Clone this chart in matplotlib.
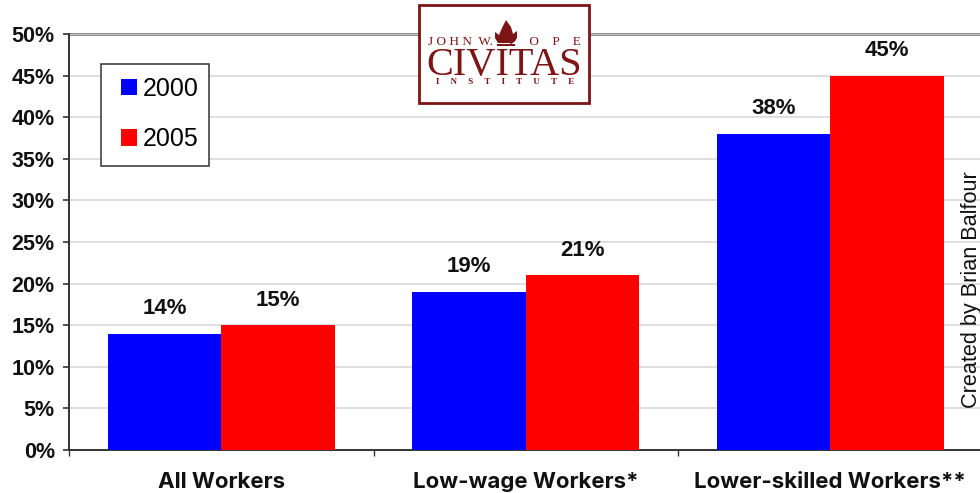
"""Share of workers by group, 2000 vs 2005, with the Civitas logo box on top."""

import matplotlib

matplotlib.use("Agg")
import matplotlib.pyplot as plt
import numpy as np
from matplotlib.patches import Patch, PathPatch, Rectangle
from matplotlib.path import Path as MPath

categories = ["All Workers", "Low-wage Workers*", "Lower-skilled Workers**"]
values_2000 = [14, 19, 38]
values_2005 = [15, 21, 45]
yticks = list(range(0, 55, 5))

BLUE, RED, MAROON = "#0000ff", "#ff0000", "#7d1416"
W, H = 980, 493

plt.rcParams["font.family"] = ["Liberation Sans", "DejaVu Sans"]

fig = plt.figure(figsize=(W / 100, H / 100), dpi=100)
# axes run a few pixels past the right edge, like the cropped original
ax = fig.add_axes([69 / W, 1 - 450 / H, 913.5 / W, 416 / H])

x = np.arange(len(categories))
width = 0.372
ax.bar(x - width / 2, values_2000, width, color=BLUE, zorder=3)
ax.bar(x + width / 2, values_2005, width, color=RED, zorder=3)

for xs, vals in ((x - width / 2, values_2000), (x + width / 2, values_2005)):
    for xi, v in zip(xs, vals):
        ax.annotate(f"{v}%", (xi, v), xytext=(0, 10.5), textcoords="offset points",
                    ha="center", va="bottom", fontsize=16, fontweight="bold",
                    color="#111111", zorder=5)

ax.set_xlim(-0.5, 2.5)
ax.set_ylim(0, 50)
ax.set_yticks(yticks)
ax.set_yticklabels([f"{t}%" for t in yticks], fontsize=15.5, fontweight="bold", color="#111111")
ax.tick_params(axis="y", length=4.2, width=1.2, color="#333333", pad=6)
ax.set_xticks([-0.5, 0.5, 1.5, 2.5])
ax.set_xticklabels([])
ax.tick_params(axis="x", length=4.2, width=1, color="#333333", direction="out")
ax.grid(axis="y", color="#d9d9d9", linewidth=1.2, zorder=0)
for side in ("right", "top"):
    ax.spines[side].set_visible(False)
for side in ("left", "bottom"):
    ax.spines[side].set_color("#333333")
    ax.spines[side].set_linewidth(1.4)
ax.axhline(50, color="#7f7f7f", linewidth=2, zorder=1, clip_on=False)

# Inter is wider than Arial, which stands in for the tracked-out labels
for xi, label in zip(x, categories):
    ax.annotate(label, (xi, 0), xytext=(0, -16), textcoords="offset points",
                ha="center", va="top", fontsize=16, fontweight="bold",
                family="Inter", color="#111111")

handles = [Patch(facecolor=BLUE, label="2000"), Patch(facecolor=RED, label="2005")]
fig.add_artist(Rectangle((100.5 / W, 1 - 166 / H), 108.5 / W, 102.5 / H, transform=fig.transFigure,
                         facecolor="white", edgecolor="#333333", linewidth=1.1, zorder=2.5))
leg = fig.legend(handles=handles, loc="upper left", bbox_to_anchor=(121 / W, 1 - 77 / H),
                 bbox_transform=fig.transFigure, borderaxespad=0, borderpad=0, fontsize=18,
                 handlelength=0.64, handleheight=0.64, handletextpad=0.25,
                 labelspacing=1.05, frameon=False)
leg.set_zorder(7)

fig.text(971 / W, 1 - 290 / H, "Created by Brian Balfour", rotation=90, ha="center",
         va="center", fontsize=15.6, color="#111111", zorder=6)

# logo box
fig.add_artist(Rectangle((418.5 / W, 1 - 103 / H), 170 / W, 98 / H, transform=fig.transFigure,
                         facecolor="white", edgecolor=MAROON, linewidth=2, zorder=10))
serif = "Liberation Serif"
fig.text(504 / W, 1 - 75 / H, "CIVITAS", ha="center", va="baseline", fontsize=29,
         family=serif, color=MAROON, zorder=11)
fig.text(428 / W, 1 - 45 / H, "J O H N  W.", ha="left", va="baseline", fontsize=9.5,
         family=serif, color=MAROON, zorder=11)
fig.text(581 / W, 1 - 45 / H, "P    O    P    E", ha="right", va="baseline", fontsize=9.5,
         family=serif, color=MAROON, zorder=11)
fig.text(505 / W, 1 - 84 / H, "I     N     S     T     I     T     U     T     E", ha="center",
         va="baseline", fontsize=6.5, family=serif, fontweight="bold", color=MAROON, zorder=11)

# flame over the V of the logo, in pixel coordinates
flame = [(506, 20), (511, 27), (513, 34), (517, 31), (517, 38), (513, 43), (498, 43),
         (495, 38), (495, 32), (499, 35), (502, 28), (506, 20)]
flame_path = MPath([(px / W, 1 - py / H) for px, py in flame])
fig.add_artist(PathPatch(flame_path, transform=fig.transFigure, facecolor=MAROON,
                         edgecolor="none", zorder=11))
fig.add_artist(Rectangle((497 / W, 1 - 46 / H), 18 / W, 1.6 / H, transform=fig.transFigure,
                         facecolor=MAROON, edgecolor="none", zorder=11))

fig.savefig("out.png", dpi=100)
